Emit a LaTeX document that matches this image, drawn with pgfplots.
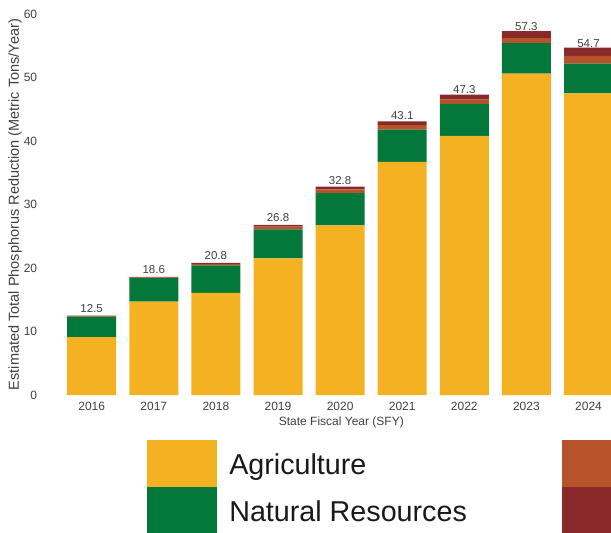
\documentclass[border=0pt]{standalone}
\usepackage{pgfplots}
\pgfplotsset{compat=1.18}
\usepackage{fontspec}
\setmainfont{Liberation Sans}
\definecolor{agri}{HTML}{F4B223}
\definecolor{natres}{HTML}{04773A}
\definecolor{otherA}{HTML}{B6532A}
\definecolor{otherB}{HTML}{8A292A}
\definecolor{txt}{HTML}{404040}
\begin{document}
\begin{tikzpicture}
\useasboundingbox (-54.8pt,-138pt) rectangle (556.2pt,395pt);
\clip (-54.8pt,-138pt) rectangle (556.2pt,395pt);
\begin{axis}[
  scale only axis, width=556.2pt, height=381pt,
  xmin=-0.594, xmax=8.362, ymin=0, ymax=60,
  ybar stacked, bar width=49pt,
  axis line style={draw=none}, major tick length=0pt,
  xtick={0,1,2,3,4,5,6,7,8},
  xticklabels={2016,2017,2018,2019,2020,2021,2022,2023,2024},
  ytick={0,10,20,30,40,50,60},
  /pgf/number format/assume math mode=true,
  ticklabel style={font=\fontsize{12}{14}\selectfont, text=txt},
  xticklabel style={inner sep=0pt, anchor=north, yshift=-7pt},
  yticklabel style={inner sep=0pt, anchor=east, xshift=-17.5pt},
  xlabel={State Fiscal Year (SFY)},
  xlabel style={at={(axis description cs:0.5151,0)}, anchor=north, inner sep=0pt, yshift=-21.5pt, font=\fontsize{12}{14}\selectfont, text=txt},
  ylabel={Estimated Total Phosphorus Reduction (Metric Tons/Year)},
  ylabel style={at={(axis description cs:0,0.5)}, anchor=base, inner sep=0pt, yshift=35.8pt, font=\fontsize{14.5}{16}\selectfont, text=txt},
  every axis plot post/.append style={legend image code/.code={\fill[##1] (0pt,-19.7pt) rectangle (70pt,27pt);}},
  legend columns=2, transpose legend, legend cell align=left,
  legend style={draw=none, fill=none, inner sep=0pt, outer sep=0pt,
    at={(axis description cs:0.1652,-0.1181)}, anchor=north west,
    font=\fontsize{28.7}{34}\selectfont, text=black!90,
    nodes={inner sep=0pt, text height=21pt, text depth=6pt}, row sep=0pt,
    /tikz/every odd column/.style={column sep=12.6pt},
    /tikz/column 2/.style={column sep=95.4pt}},
]
\addplot[fill=agri, draw=none] coordinates {(0,9.1) (1,14.7) (2,16.1) (3,21.5) (4,26.7) (5,36.7) (6,40.8) (7,50.6) (8,47.5)};
\addlegendentry{Agriculture}
\addplot[fill=natres, draw=none] coordinates {(0,3.2) (1,3.7) (2,4.3) (3,4.6) (4,5.1) (5,5.1) (6,5.0) (7,4.8) (8,4.7)};
\addlegendentry{Natural Resources}
\addplot[fill=otherA, draw=none] coordinates {(0,0.1) (1,0.1) (2,0.2) (3,0.4) (4,0.6) (5,0.7) (6,0.7) (7,0.8) (8,1.2)};
\addlegendentry{}
\addplot[fill=otherB, draw=none, nodes near coords, point meta=explicit symbolic,
  nodes near coords style={anchor=south, inner sep=0pt, yshift=3.5pt, font=\fontsize{11.5}{13}\selectfont, text=txt}]
  coordinates {(0,0.1)[12.5] (1,0.1)[18.6] (2,0.2)[20.8] (3,0.3)[26.8] (4,0.4)[32.8] (5,0.6)[43.1] (6,0.8)[47.3] (7,1.1)[57.3] (8,1.3)[54.7]};
\addlegendentry{}
\end{axis}
\end{tikzpicture}
\end{document}
